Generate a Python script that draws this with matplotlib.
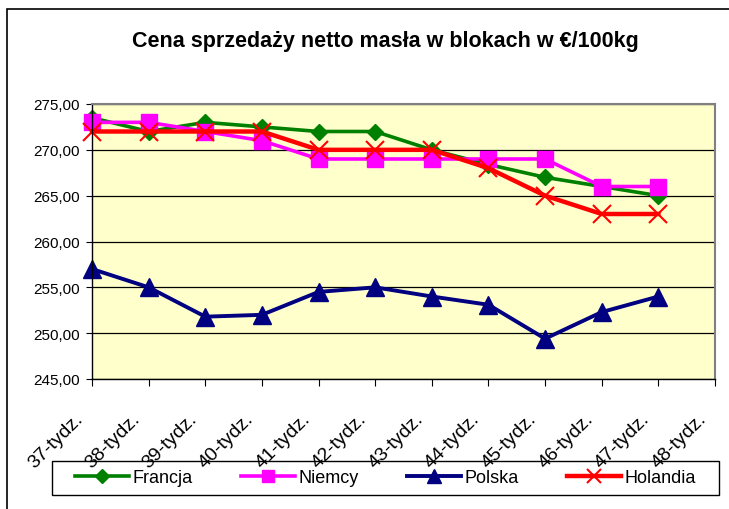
import numpy as np
import matplotlib.pyplot as plt
from matplotlib.patches import Rectangle
from matplotlib.transforms import ScaledTranslation

plt.rcParams['font.family'] = ['Liberation Sans', 'DejaVu Sans']

weeks = ['37-tydz.', '38-tydz.', '39-tydz.', '40-tydz.', '41-tydz.', '42-tydz.',
         '43-tydz.', '44-tydz.', '45-tydz.', '46-tydz.', '47-tydz.', '48-tydz.']
francja = [273.5, 272.0, 273.0, 272.5, 272.0, 272.0, 270.0, 268.4, 267.0, 266.0, 265.0]
niemcy = [273.0, 273.0, 272.0, 271.0, 269.0, 269.0, 269.0, 269.0, 269.0, 266.0, 266.0]
polska = [257.0, 255.0, 251.8, 252.0, 254.5, 255.0, 254.0, 253.1, 249.4, 252.3, 254.0]
holandia = [272.0, 272.0, 272.0, 272.0, 270.0, 270.0, 270.0, 268.0, 265.0, 263.0, 263.0]

fig = plt.figure(figsize=(7.29, 5.10), dpi=100)
# outer chart frame
fig.patches.append(Rectangle((7 / 729, -0.1), 1.2, 1 - 10 / 510 + 0.1,
                             transform=fig.transFigure, fill=False,
                             edgecolor='black', linewidth=1.2))
# legend frame
fig.patches.append(Rectangle((52 / 729, 1 - 496 / 510), (719 - 52) / 729, 34 / 510,
                             transform=fig.transFigure, fill=False,
                             edgecolor='black', linewidth=1.0))

ax = fig.add_axes([92 / 729, 1 - 380 / 510, (715 - 92) / 729, (380 - 105) / 510])
ax.set_facecolor('#FFFFCC')

x = np.arange(len(francja))
ax.plot(x, francja, color='#008000', lw=2.6, marker='D', ms=8.5, label='Francja', clip_on=False)
ax.plot(x, niemcy, color='#FF00FF', lw=2.6, marker='s', ms=11, label='Niemcy', clip_on=False)
ax.plot(x, polska, color='#000080', lw=2.8, marker='^', ms=12.5, label='Polska', clip_on=False)
ax.plot(x, holandia, color='#FF0000', lw=3.2, marker='x', ms=12.5, mew=1.5,
        label='Holandia', clip_on=False)

ax.set_xlim(0, 11)
ax.set_ylim(245, 275)
yt = np.arange(245, 276, 5)
ax.set_yticks(yt)
ax.set_yticklabels([f'{v:.2f}'.replace('.', ',') for v in yt], fontsize=11)
ax.set_xticks(np.arange(len(weeks)))
ax.set_xticklabels(weeks, rotation=45, ha='right', va='baseline',
                   rotation_mode='anchor', fontsize=14)
ax.tick_params(axis='x', length=5, pad=24, direction='out')
ax.tick_params(axis='y', length=4, pad=5, direction='out')
shift = ScaledTranslation(-8 / 100, 0, fig.dpi_scale_trans)
for lab in ax.get_xticklabels():
    lab.set_transform(lab.get_transform() + shift)
ax.yaxis.grid(True, color='black', lw=0.9)
ax.set_axisbelow(True)
for s in ['top', 'right']:
    ax.spines[s].set_color('#808080')
    ax.spines[s].set_linewidth(1.5)
for s in ['left', 'bottom']:
    ax.spines[s].set_linewidth(1.0)

fig.text(385 / 729, 1 - 42 / 510, 'Cena sprzedaży netto masła w blokach w €/100kg',
         ha='center', va='center', fontsize=15.5, fontweight='bold')

leg = fig.legend(loc='center', ncol=4, bbox_to_anchor=(385.5 / 729, 1 - 479 / 510),
                 fontsize=13, frameon=False, handlelength=3.0, handletextpad=0.2,
                 columnspacing=2.67, borderpad=0, borderaxespad=0, markerscale=0.85)

fig.savefig('out.png', dpi=100)
